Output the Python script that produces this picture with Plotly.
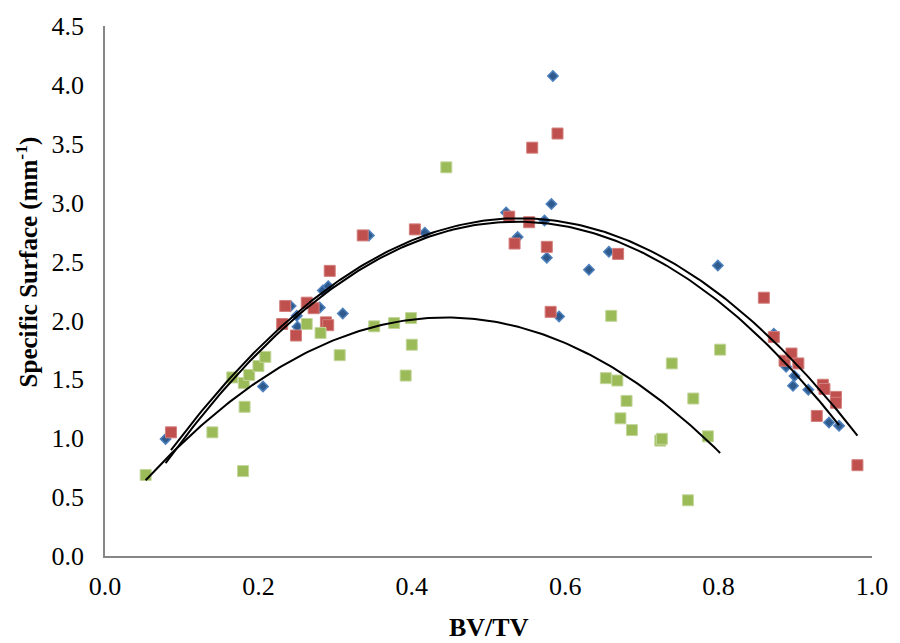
import numpy as np
import plotly.graph_objects as go

# Series 1 (blue diamonds)
blue_x = [0.079, 0.206, 0.242, 0.250, 0.251, 0.280, 0.284, 0.291, 0.310, 0.344, 0.417,
          0.523, 0.538, 0.573, 0.576, 0.582, 0.584, 0.592, 0.631, 0.657, 0.799,
          0.872, 0.888, 0.899, 0.897, 0.917, 0.944, 0.957]
blue_y = [0.994, 1.440, 2.123, 2.039, 1.947, 2.109, 2.254, 2.290, 2.059, 2.722, 2.745,
          2.917, 2.708, 2.848, 2.533, 2.988, 4.075, 2.034, 2.430, 2.583, 2.466,
          1.886, 1.607, 1.529, 1.445, 1.412, 1.133, 1.105]

# Series 2 (red squares)
red_x = [0.086, 0.231, 0.235, 0.249, 0.263, 0.272, 0.288, 0.291, 0.293, 0.336, 0.404,
         0.527, 0.534, 0.553, 0.557, 0.576, 0.581, 0.590, 0.669, 0.859, 0.872,
         0.886, 0.895, 0.904, 0.928, 0.936, 0.938, 0.953, 0.953, 0.981]
red_y = [1.050, 1.970, 2.123, 1.872, 2.151, 2.104, 1.984, 1.960, 2.421, 2.722, 2.773,
         2.881, 2.653, 2.834, 3.467, 2.625, 2.073, 3.587, 2.565, 2.193, 1.859,
         1.658, 1.719, 1.635, 1.189, 1.454, 1.418, 1.351, 1.301, 0.771]

# Series 3 (green squares)
green_x = [0.053, 0.140, 0.166, 0.180, 0.181, 0.182, 0.188, 0.200, 0.209, 0.263, 0.281,
           0.306, 0.351, 0.377, 0.392, 0.399, 0.400, 0.445, 0.653, 0.660, 0.668,
           0.672, 0.680, 0.687, 0.724, 0.726, 0.739, 0.760, 0.767, 0.786, 0.802]
green_y = [0.688, 1.050, 1.516, 0.721, 1.468, 1.267, 1.537, 1.613, 1.691, 1.970, 1.894,
           1.705, 1.950, 1.978, 1.532, 2.020, 1.794, 3.300, 1.510, 2.039, 1.490,
           1.169, 1.317, 1.069, 0.980, 0.995, 1.635, 0.473, 1.337, 1.016, 1.752]

x_ticks = [0.0, 0.2, 0.4, 0.6, 0.8, 1.0]
y_ticks = [0.0, 0.5, 1.0, 1.5, 2.0, 2.5, 3.0, 3.5, 4.0, 4.5]

FONT = "Liberation Serif"

fig = go.Figure()

series = [
    (blue_x, blue_y, dict(symbol="diamond", size=8, color="#2E5A8E",
                          line=dict(color="#4F81BD", width=1.5))),
    (red_x, red_y, dict(symbol="square", size=11, color="#C0504D",
                        line=dict(color="#D27F7D", width=1))),
    (green_x, green_y, dict(symbol="square", size=11, color="#9BBB59",
                            line=dict(color="#C3D69B", width=1))),
]

for xs, ys, mk in series:
    fig.add_trace(go.Scatter(x=xs, y=ys, mode="markers", marker=mk,
                             showlegend=False, hoverinfo="skip"))

# Second-order polynomial trendlines computed from each series
for xs, ys, _ in series:
    c = np.polyfit(xs, ys, 2)
    tx = np.linspace(min(xs), max(xs), 200)
    fig.add_trace(go.Scatter(x=tx, y=np.polyval(c, tx), mode="lines",
                             line=dict(color="black", width=2),
                             showlegend=False, hoverinfo="skip"))

axis_common = dict(showgrid=False, zeroline=False, showline=True,
                   linecolor="#868686", linewidth=1.5, ticks="",
                   tickfont=dict(family=FONT, size=26, color="black"))

fig.update_xaxes(range=[0, 1], tickvals=x_ticks,
                 ticktext=[f"{v:.1f}" for v in x_ticks],
                 ticklabelstandoff=6, **axis_common)
fig.update_yaxes(range=[0, 4.5], tickvals=y_ticks,
                 ticktext=[f"{v:.1f}" for v in y_ticks],
                 ticklabelstandoff=14, **axis_common)

fig.add_annotation(text="<b>BV/TV</b>", xref="paper", yref="paper",
                   x=0.5, y=-0.135, showarrow=False, xanchor="center", yanchor="middle",
                   font=dict(family=FONT, size=26, color="black"))
fig.add_annotation(text="<b>Specific Surface (mm<sup>-1</sup>)</b>", xref="paper", yref="paper",
                   x=-0.101, y=0.555, showarrow=False, textangle=-90,
                   xanchor="center", yanchor="middle",
                   font=dict(family=FONT, size=25, color="black"))

fig.update_layout(width=900, height=643, margin=dict(l=105, r=22, t=18, b=87),
                  plot_bgcolor="white", paper_bgcolor="white")

fig.write_html("out.html")
